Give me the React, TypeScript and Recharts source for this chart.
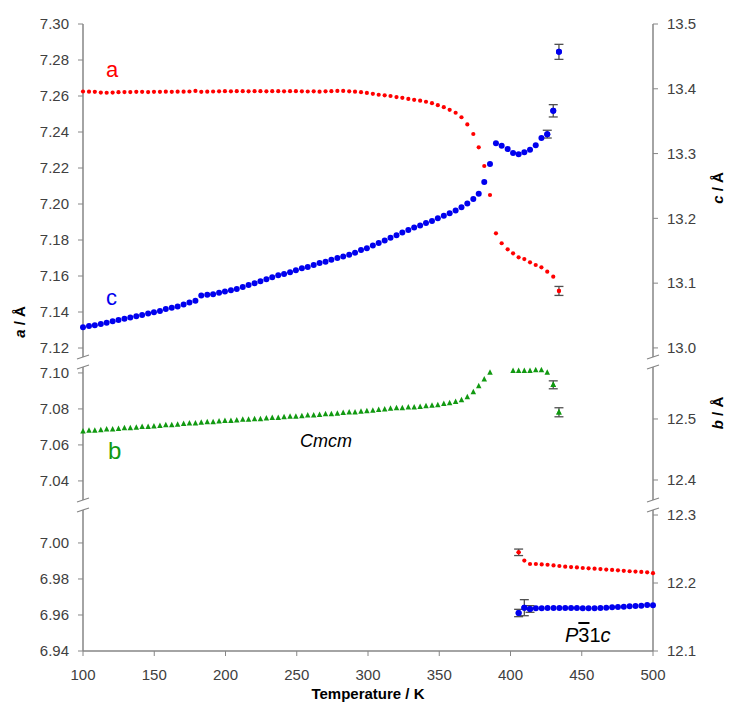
import React from 'react';
import { ScatterChart, Scatter, XAxis, YAxis, ErrorBar } from 'recharts';

// Cmcm phase (top + middle panels)
const tempCmcm = [
  100.0, 104.2, 108.3, 112.5, 116.6, 120.8, 124.9, 129.1, 133.2, 137.4,
  141.5, 145.7, 149.8, 154.0, 158.1, 162.3, 166.4, 170.6, 174.7, 178.9,
  183.0, 187.2, 191.3, 195.5, 199.6, 203.8, 207.9, 212.1, 216.2, 220.4,
  224.5, 228.7, 232.8, 237.0, 241.1, 245.3, 249.4, 253.6, 257.7, 261.9,
  266.0, 270.2, 274.3, 278.5, 282.6, 286.8, 290.9, 295.1, 299.2, 303.4,
  307.5, 311.7, 315.8, 320.0, 324.1, 328.3, 332.4, 336.6, 340.7, 344.9,
  349.0, 353.2, 357.3, 361.5, 365.6, 369.7, 373.9, 377.7, 381.6, 385.6,
  389.8, 393.8, 398.0, 401.8, 405.7, 409.7, 413.7, 417.7, 421.7, 425.8,
  430.0, 434.0,
];

const aCmcm = [
  7.2625, 7.2624, 7.2623, 7.2619, 7.2618, 7.2619, 7.2621, 7.2622, 7.2622, 7.2623,
  7.2623, 7.2622, 7.2623, 7.2623, 7.2624, 7.2623, 7.2624, 7.2624, 7.2625, 7.2628,
  7.2623, 7.2624, 7.2625, 7.2626, 7.2627, 7.2626, 7.2627, 7.2627, 7.2626, 7.2627,
  7.2627, 7.2626, 7.2627, 7.2627, 7.2626, 7.2627, 7.2627, 7.2626, 7.2625, 7.2626,
  7.2624, 7.2626, 7.2627, 7.2628, 7.2628, 7.2626, 7.2624, 7.2621, 7.2617, 7.2612,
  7.2607, 7.2604, 7.2600, 7.2594, 7.2590, 7.2584, 7.2579, 7.2574, 7.2568, 7.2560,
  7.2549, 7.2538, 7.2523, 7.2507, 7.2482, 7.2442, 7.2389, 7.2315, 7.2211, 7.2050,
  7.1837, 7.1782, 7.1748, 7.1726, 7.1704, 7.1694, 7.1676, 7.1661, 7.1648, 7.1624,
  7.1596, 7.1517,
];

const cCmcm = [
  13.032, 13.034, 13.035, 13.037, 13.039, 13.041, 13.043, 13.045, 13.047, 13.049,
  13.051, 13.053, 13.055, 13.057, 13.060, 13.062, 13.064, 13.067, 13.070, 13.073,
  13.081, 13.082, 13.083, 13.085, 13.087, 13.089, 13.091, 13.094, 13.097, 13.100,
  13.103, 13.106, 13.109, 13.112, 13.114, 13.117, 13.120, 13.123, 13.125, 13.128,
  13.131, 13.133, 13.136, 13.139, 13.141, 13.144, 13.147, 13.151, 13.154, 13.158,
  13.162, 13.166, 13.170, 13.174, 13.178, 13.182, 13.186, 13.189, 13.193, 13.196,
  13.200, 13.204, 13.208, 13.212, 13.217, 13.223, 13.230, 13.238, 13.256, 13.284,
  13.316, 13.312, 13.307, 13.301, 13.299, 13.302, 13.306, 13.313, 13.324, 13.330,
  13.366, 13.457,
];

const bCmcm = [
  12.480, 12.481, 12.481, 12.482, 12.483, 12.483, 12.484, 12.485, 12.485, 12.486,
  12.487, 12.487, 12.488, 12.489, 12.490, 12.490, 12.491, 12.492, 12.493, 12.493,
  12.494, 12.495, 12.495, 12.496, 12.497, 12.497, 12.498, 12.499, 12.499, 12.500,
  12.500, 12.501, 12.502, 12.502, 12.503, 12.504, 12.504, 12.505, 12.506, 12.506,
  12.507, 12.508, 12.508, 12.509, 12.510, 12.511, 12.511, 12.512, 12.513, 12.514,
  12.515, 12.516, 12.517, 12.518, 12.518, 12.519, 12.519, 12.520, 12.521, 12.522,
  12.523, 12.525, 12.526, 12.528, 12.531, 12.536, 12.544, 12.554, 12.565, 12.576,
  null, null, null, 12.579, 12.579, 12.579, 12.579, 12.580, 12.580, 12.576,
  12.556, 12.511,
];

const aCmcmErrT = [434.0];
const aCmcmErr = [0.0025];
const cCmcmErrT = [425.8, 430.0, 434.0];
const cCmcmErr = [0.006, 0.0095, 0.0116];
const bCmcmErrT = [430.0, 434.0];
const bCmcmErr = [0.0065, 0.0074];

// P-31c phase (bottom panel)
const tempP31c = [
  405.7, 409.7, 413.7, 417.8, 421.9, 426.0, 430.2, 434.3, 438.4, 442.5,
  446.6, 450.7, 454.8, 459.0, 463.1, 467.2, 471.3, 475.4, 479.5, 483.6,
  487.7, 491.8, 495.9, 500.0,
];
const aP31c = [
  6.9948, 6.9902, 6.9883, 6.9883, 6.9881, 6.9879, 6.9875, 6.9872, 6.9868, 6.9866,
  6.9864, 6.9861, 6.9859, 6.9857, 6.9855, 6.9852, 6.9850, 6.9848, 6.9845, 6.9843,
  6.9841, 6.9839, 6.9837, 6.9832,
];
const cP31c = [
  12.1559, 12.1637, 12.1618, 12.1628, 12.1628, 12.1632, 12.1632, 12.1632, 12.1632, 12.1632,
  12.1632, 12.1628, 12.1628, 12.1628, 12.1632, 12.1637, 12.1642, 12.1647, 12.1652, 12.1657,
  12.1662, 12.1666, 12.1676, 12.1672,
];
const aP31cErrT = [405.7];
const aP31cErr = [0.0018];
const cP31cErrT = [405.7, 409.7, 413.7];
const cP31cErr = [0.0054, 0.0118, 0.0049];

// axis ticks
const xTicks = [100, 150, 200, 250, 300, 350, 400, 450, 500];
const aTicksTop = [7.12, 7.14, 7.16, 7.18, 7.20, 7.22, 7.24, 7.26, 7.28, 7.30];
const cTicksTop = [13.0, 13.1, 13.2, 13.3, 13.4, 13.5];
const aTicksMid = [7.04, 7.06, 7.08, 7.10];
const bTicksMid = [12.4, 12.5];
const aTicksBot = [6.94, 6.96, 6.98, 7.00];
const cTicksBot = [12.1, 12.2, 12.3];

const FONT = '"Liberation Sans", Arial, sans-serif';
const W = 734;
const PLOT_L = 83;
const PLOT_R = 653;
const AXIS_W = 60;
const GREY = '#868686';
const TXT = '#404040';
const RED = '#ff0000';
const BLUE = '#0000ee';
const GREEN = '#119911';

type Pt = { T: number; v: number; e?: number };

function toPoints(temps: number[], vals: (number | null)[]): Pt[] {
  return temps
    .map((T, i) => ({ T, v: vals[i] as number }))
    .filter((p) => p.v != null);
}

function toErrPoints(temps: number[], vals: (number | null)[], errT: number[], errs: number[]): Pt[] {
  return errT.map((T, i) => ({ T, v: vals[temps.indexOf(T)] as number, e: errs[i] }));
}

const dot = (color: string, r: number) => (p: any) =>
  <circle cx={p.cx} cy={p.cy} r={r} fill={color} />;

const tri = (color: string, s: number) => (p: any) => (
  <polygon
    points={`${p.cx},${p.cy - s * 0.6} ${p.cx - s / 2},${p.cy + s * 0.4} ${p.cx + s / 2},${p.cy + s * 0.4}`}
    fill={color}
  />
);

const tickStyle = { fontSize: 15, fill: TXT, fontFamily: FONT };

function Panel(props: {
  top: number;
  plotH: number;
  leftDomain: [number, number];
  leftTicks: number[];
  rightDomain: [number, number];
  rightTicks: number[];
  showX?: boolean;
  children: React.ReactNode;
}) {
  const mt = 10;
  const xh = 40;
  const mb = props.showX ? 0 : 10;
  const h = mt + props.plotH + (props.showX ? xh : 0) + mb;
  return (
    <div style={{ position: 'absolute', left: 0, top: props.top - mt }}>
      <ScatterChart
        width={W}
        height={h}
        margin={{ top: mt, right: W - PLOT_R - AXIS_W, bottom: mb, left: PLOT_L - AXIS_W }}
      >
        <XAxis
          type="number"
          dataKey="T"
          domain={[100, 500]}
          ticks={xTicks}
          hide={!props.showX}
          height={xh}
          tickSize={5}
          tickMargin={13}
          axisLine={{ stroke: GREY, strokeWidth: 1.5 }}
          tickLine={{ stroke: GREY }}
          tick={tickStyle}
        />
        <YAxis
          yAxisId="left"
          type="number"
          dataKey="v"
          domain={props.leftDomain}
          ticks={props.leftTicks}
          allowDataOverflow
          interval={0}
          width={AXIS_W}
          tickSize={5}
          tickMargin={9}
          tickFormatter={(v: number) => v.toFixed(2)}
          axisLine={{ stroke: GREY, strokeWidth: 1.5 }}
          tickLine={{ stroke: GREY }}
          tick={tickStyle}
        />
        <YAxis
          yAxisId="right"
          orientation="right"
          type="number"
          dataKey="v"
          domain={props.rightDomain}
          ticks={props.rightTicks}
          allowDataOverflow
          interval={0}
          width={AXIS_W}
          tickSize={5}
          tickMargin={9}
          tickFormatter={(v: number) => v.toFixed(1)}
          axisLine={{ stroke: GREY, strokeWidth: 1.5 }}
          tickLine={{ stroke: GREY }}
          tick={tickStyle}
        />
        {props.children}
      </ScatterChart>
    </div>
  );
}

const errProps = { dataKey: 'e', direction: 'y' as const, width: 4.5, stroke: '#505050', strokeWidth: 1.3 };

export default function App() {
  const breaks = [357, 367, 500, 510];
  return (
    <div style={{ position: 'absolute', left: 0, top: 0, width: W, height: 708, background: '#fff', fontFamily: FONT }}>
      {/* top: a (left) and c (right) */}
      <Panel top={24} plotH={333} leftDomain={[7.115, 7.3]} leftTicks={aTicksTop} rightDomain={[12.986, 13.5]} rightTicks={cTicksTop}>
        <Scatter data={toPoints(tempCmcm, aCmcm)} yAxisId="left" shape={dot(RED, 2.1)} isAnimationActive={false} />
        <Scatter data={toErrPoints(tempCmcm, aCmcm, aCmcmErrT, aCmcmErr)} yAxisId="left" shape={dot(RED, 2.1)} isAnimationActive={false}>
          <ErrorBar {...errProps} />
        </Scatter>
        <Scatter data={toPoints(tempCmcm, cCmcm)} yAxisId="right" shape={dot(BLUE, 3)} isAnimationActive={false} />
        <Scatter data={toErrPoints(tempCmcm, cCmcm, cCmcmErrT, cCmcmErr)} yAxisId="right" shape={dot(BLUE, 3)} isAnimationActive={false}>
          <ErrorBar {...errProps} />
        </Scatter>
      </Panel>

      {/* middle: b (right) */}
      <Panel top={367} plotH={133} leftDomain={[7.0294, 7.1033]} leftTicks={aTicksMid} rightDomain={[12.3672, 12.5852]} rightTicks={bTicksMid}>
        <Scatter data={toPoints(tempCmcm, bCmcm)} yAxisId="right" shape={tri(GREEN, 5.5)} isAnimationActive={false} />
        <Scatter data={toErrPoints(tempCmcm, bCmcm, bCmcmErrT, bCmcmErr)} yAxisId="right" shape={tri(GREEN, 5.5)} isAnimationActive={false}>
          <ErrorBar {...errProps} />
        </Scatter>
      </Panel>

      {/* bottom: P-31c a (left) and c (right) */}
      <Panel top={510} plotH={141} leftDomain={[6.94, 7.0183]} leftTicks={aTicksBot} rightDomain={[12.1, 12.3074]} rightTicks={cTicksBot} showX>
        <Scatter data={toPoints(tempP31c, aP31c)} yAxisId="left" shape={dot(RED, 2.1)} isAnimationActive={false} />
        <Scatter data={toErrPoints(tempP31c, aP31c, aP31cErrT, aP31cErr)} yAxisId="left" shape={dot(RED, 2.1)} isAnimationActive={false}>
          <ErrorBar {...errProps} />
        </Scatter>
        <Scatter data={toPoints(tempP31c, cP31c)} yAxisId="right" shape={dot(BLUE, 3)} isAnimationActive={false} />
        <Scatter data={toErrPoints(tempP31c, cP31c, cP31cErrT, cP31cErr)} yAxisId="right" shape={dot(BLUE, 3)} isAnimationActive={false}>
          <ErrorBar {...errProps} />
        </Scatter>
      </Panel>

      <svg width={W} height={708} style={{ position: 'absolute', left: 0, top: 0, pointerEvents: 'none' }} fontFamily={FONT}>
        {[PLOT_L, PLOT_R].map((x) =>
          breaks.map((y) => (
            <line key={`${x}-${y}`} x1={x - 6} y1={y + 2} x2={x + 6} y2={y - 2} stroke={GREY} strokeWidth={1.3} />
          ))
        )}
        <text x={106} y={77} fontSize={22} fill={RED}>a</text>
        <text x={106} y={305} fontSize={22} fill={BLUE}>c</text>
        <text x={108} y={459} fontSize={24} fill={GREEN}>b</text>
        <text x={300} y={447} fontSize={18} fontStyle="italic" fill="#000">Cmcm</text>
        <text x={565} y={642} fontSize={20} fill="#000">
          <tspan fontStyle="italic">P</tspan>
          <tspan style={{ textDecoration: 'overline' }}>3</tspan>
          <tspan>1</tspan>
          <tspan fontStyle="italic">c</tspan>
        </text>
        <text transform="translate(25,322) rotate(-90)" textAnchor="middle" fontSize={15} fontWeight="bold" fill="#000">
          <tspan fontStyle="italic">a</tspan> / Å
        </text>
        <text transform="translate(723,188) rotate(-90)" textAnchor="middle" fontSize={15} fontWeight="bold" fill="#000">
          <tspan fontStyle="italic">c</tspan> / Å
        </text>
        <text transform="translate(723,413) rotate(-90)" textAnchor="middle" fontSize={15} fontWeight="bold" fill="#000">
          <tspan fontStyle="italic">b</tspan> / Å
        </text>
        <text x={368} y={699} textAnchor="middle" fontSize={15} fontWeight="bold" fill="#000">Temperature / K</text>
      </svg>
    </div>
  );
}
